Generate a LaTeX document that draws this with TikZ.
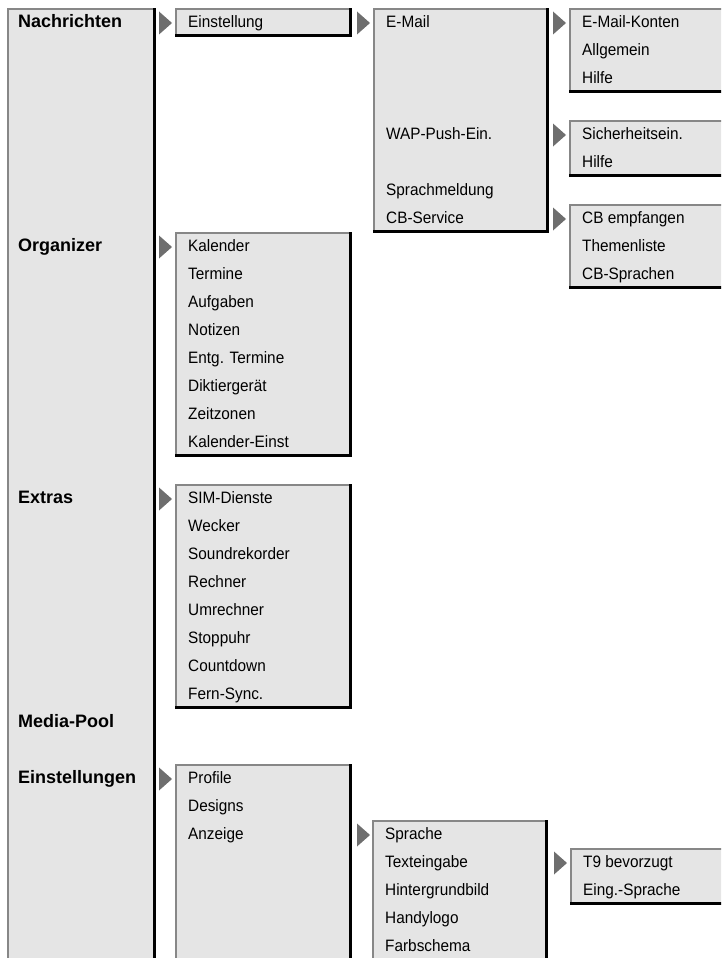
\documentclass[tikz,border=0pt]{standalone}
\usepackage{fontspec}
\setmainfont{Liberation Sans}
\newfontfamily\itemfont{Liberation Sans}[FakeStretch=0.93]
\definecolor{boxfill}{HTML}{E5E5E5}
\definecolor{edgegray}{HTML}{878787}
\definecolor{trigray}{HTML}{6E6E6E}
\tikzset{
  itemtext/.style={anchor=base west, inner sep=0pt, font=\itemfont\fontsize{16.5}{19}\selectfont},
  headtext/.style={anchor=base west, inner sep=0pt, font=\bfseries\fontsize{18}{20}\selectfont},
  grayedge/.style={draw=edgegray, line width=2pt},
  blackedge/.style={draw=black, line width=3pt},
  tri/.style={fill=trigray},
}
\newcommand\menuframe[4]{%
  \fill[boxfill] (#1,#2) rectangle (#3,#4);
  \draw[grayedge] (#1+1,#4) -- (#1+1,#2+1) -- (#3,#2+1);
  \draw[blackedge] (#1,#4-1.5) -- (#3-1.5,#4-1.5) -- (#3-1.5,#2);
}
\newcommand\menutri[2]{%
  \fill[tri] (#1,{8+28*#2+3.5}) -- (#1+13,{8+28*#2+15}) -- (#1,{8+28*#2+26.5}) -- cycle;
}
\newcommand\mitem[4]{\node[itemtext] (#1) at (#2,{8+28*#3+19.5}) {#4};}
\newcommand\mhead[3]{\node[headtext] (#1) at (18,{8+28*#2+19.5}) {#3};}
\begin{document}
\begin{tikzpicture}[x=1pt,y=-1pt]
\useasboundingbox (0,0) rectangle (721,958);
\clip (0,0) rectangle (721,958);
% column 0
\menuframe{7}{8}{155.5}{990}
\mhead{h-nach}{0}{Nachrichten}
\mhead{h-org}{8}{Organizer}
\mhead{h-ext}{17}{Extras}
\mhead{h-media}{25}{Media-Pool}
\mhead{h-einst}{27}{Einstellungen}
\menutri{159}{0}
\menutri{159}{8}
\menutri{159}{17}
\menutri{159}{27}
% column 1
\menuframe{175}{8}{352}{37}
\mitem{c1-einst}{188}{0}{Einstellung}
\menuframe{175}{232}{352}{457}
\mitem{c1-kal}{188}{8}{Kalender}
\mitem{c1-term}{188}{9}{Termine}
\mitem{c1-aufg}{188}{10}{Aufgaben}
\mitem{c1-not}{188}{11}{Notizen}
\mitem{c1-entg}{188}{12}{Entg. Termine}
\mitem{c1-dikt}{188}{13}{Diktiergerät}
\mitem{c1-zeit}{188}{14}{Zeitzonen}
\mitem{c1-kale}{188}{15}{Kalender-Einst}
\menuframe{175}{484}{352}{709}
\mitem{c1-sim}{188}{17}{SIM-Dienste}
\mitem{c1-weck}{188}{18}{Wecker}
\mitem{c1-sound}{188}{19}{Soundrekorder}
\mitem{c1-rech}{188}{20}{Rechner}
\mitem{c1-umr}{188}{21}{Umrechner}
\mitem{c1-stopp}{188}{22}{Stoppuhr}
\mitem{c1-count}{188}{23}{Countdown}
\mitem{c1-fern}{188}{24}{Fern-Sync.}
\menuframe{175}{764}{352}{990}
\mitem{c1-prof}{188}{27}{Profile}
\mitem{c1-des}{188}{28}{Designs}
\mitem{c1-anz}{188}{29}{Anzeige}
\menutri{357}{0}
\menutri{357}{29}
% column 2
\menuframe{373}{8}{549}{233}
\mitem{c2-mail}{386}{0}{E-Mail}
\mitem{c2-wap}{386}{4}{WAP-Push-Ein.}
\mitem{c2-sprm}{386}{6}{Sprachmeldung}
\mitem{c2-cb}{386}{7}{CB-Service}
\menuframe{372}{820}{548}{990}
\mitem{c2-spr}{385}{29}{Sprache}
\mitem{c2-text}{385}{30}{Texteingabe}
\mitem{c2-hint}{385}{31}{Hintergrundbild}
\mitem{c2-handy}{385}{32}{Handylogo}
\mitem{c2-farb}{385}{33}{Farbschema}
\menutri{553}{0}
\menutri{553}{4}
\menutri{553}{7}
\menutri{554}{30}
% column 3
\menuframe{569}{8}{740}{93}
\mitem{c3-konten}{582}{0}{E-Mail-Konten}
\mitem{c3-allg}{582}{1}{Allgemein}
\mitem{c3-hilfe}{582}{2}{Hilfe}
\menuframe{569}{120}{740}{177}
\mitem{c3-sich}{582}{4}{Sicherheitsein.}
\mitem{c3-hilfe2}{582}{5}{Hilfe}
\menuframe{569}{204}{740}{289}
\mitem{c3-cbemp}{582}{7}{CB empfangen}
\mitem{c3-them}{582}{8}{Themenliste}
\mitem{c3-cbspr}{582}{9}{CB-Sprachen}
\menuframe{570}{848}{740}{905}
\mitem{c3-t9}{583}{30}{T9 bevorzugt}
\mitem{c3-eing}{583}{31}{Eing.-Sprache}
\end{tikzpicture}
\end{document}
